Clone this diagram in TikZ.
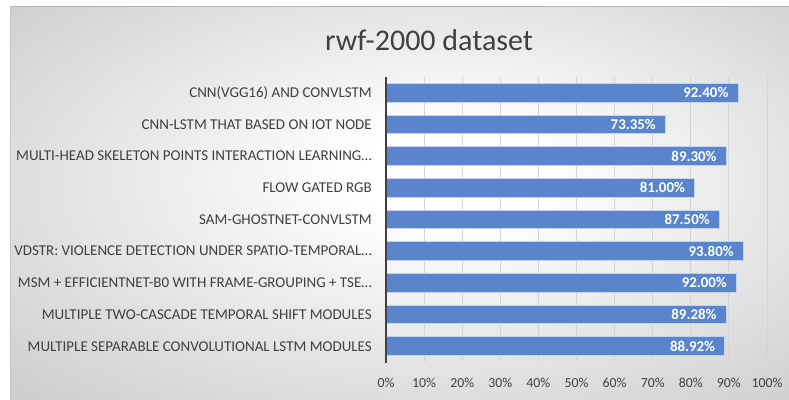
\documentclass[tikz,border=0pt]{standalone}
\usepackage{fontspec}
\setmainfont{Carlito}
\definecolor{bargreen}{RGB}{90,133,204}
\definecolor{barrim}{RGB}{196,212,238}
\definecolor{txt}{RGB}{64,64,64}
\definecolor{gridc}{RGB}{212,212,212}
\definecolor{bggray}{RGB}{178,178,178}
\newcommand{\trail}{…}
\pgfdeclareradialshading{bgglow}{\pgfpoint{4bp}{4bp}}{color(0bp)=(white); color(6bp)=(white); color(54bp)=(bggray)}
\tikzset{
  catlabel/.style={anchor=east, text=txt, font=\fontsize{15}{17}\selectfont, inner sep=0pt},
  vallabel/.style={anchor=east, text=white, font=\fontsize{14.9}{16}\selectfont\bfseries, inner sep=0pt},
  ticklabel/.style={anchor=center, text=txt, font=\fontsize{13.8}{15}\selectfont, inner sep=0pt},
  barbox/.style={fill=bargreen, draw=barrim, line width=1.1pt},
  gridline/.style={draw=gridc, line width=0.9pt},
}
\begin{document}
\begin{tikzpicture}[x=1pt,y=-1pt]
\useasboundingbox (0,0) rectangle (789,399);
\fill[white] (0,0) rectangle (789,399);
\shade[shading=bgglow] (10,6) rectangle (789,399);
\draw[draw=black!30, line width=0.6pt] (10,6.3) -- (789,6.3);
\draw[draw=black!22, line width=0.6pt] (10.3,6) -- (10.3,399);

% title
\node[text=txt, font=\fontsize{30}{32}\selectfont, inner sep=0pt] (title) at (429,40) {rwf-2000 dataset};

% vertical grid lines and tick labels
\foreach \p in {10,20,...,100} {
  \draw[gridline] ({386+3.81*\p},77) -- ({386+3.81*\p},362);
}
\foreach \p in {0,10,...,100} {
  \node[ticklabel] (tick\p) at ({386+3.81*\p},383) {\p\%};
}

% bars with category and value labels
\foreach \i/\v/\t/\lab in {
  1/92.40/92.40\%/CNN(VGG16) AND CONVLSTM,
  2/73.35/73.35\%/CNN-LSTM THAT BASED ON IOT NODE,
  3/89.30/89.30\%/MULTI-HEAD SKELETON POINTS INTERACTION LEARNING\trail,
  4/81.00/81.00\%/FLOW GATED RGB,
  5/87.50/87.50\%/SAM-GHOSTNET-CONVLSTM,
  6/93.80/93.80\%/VDSTR: VIOLENCE DETECTION UNDER SPATIO-TEMPORAL\trail,
  7/92.00/92.00\%/MSM + EFFICIENTNET-B0 WITH FRAME-GROUPING + TSE\trail,
  8/89.28/89.28\%/MULTIPLE TWO-CASCADE TEMPORAL SHIFT MODULES,
  9/88.92/88.92\%/MULTIPLE SEPARABLE CONVOLUTIONAL LSTM MODULES} {
  \pgfmathsetmacro{\yc}{77+31.67*(\i-0.5)}
  \pgfmathsetmacro{\xe}{386+3.81*\v}
  \draw[barbox] (386,\yc-9.3) rectangle (\xe,\yc+9.3);
  \node[vallabel] (val\i) at (\xe-9.5,\yc) {\t};
  \node[catlabel] (cat\i) at (372,\yc) {\lab};
}

% category axis
\draw[draw=txt, line width=2pt] (386,77) -- (386,362.5);
\end{tikzpicture}
\end{document}
